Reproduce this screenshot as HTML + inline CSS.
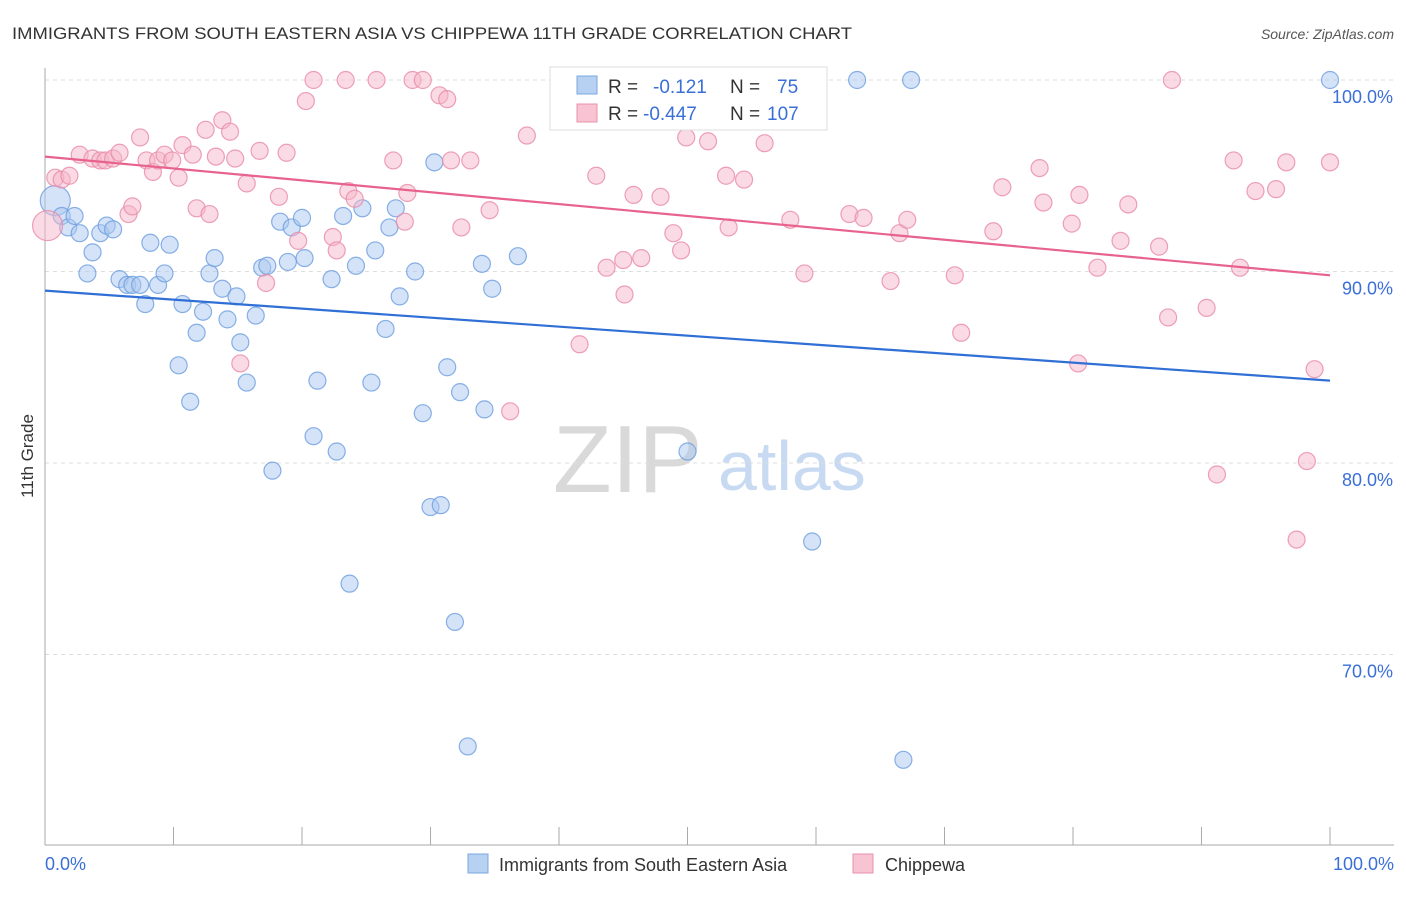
<!DOCTYPE html>
<html><head><meta charset="utf-8">
<style>
body{margin:0;background:#fff;font-family:"Liberation Sans",sans-serif;}
svg text{font-family:"Liberation Sans",sans-serif;}
</style></head>
<body>
<svg id="chart" width="1406" height="892" viewBox="0 0 1406 892" xmlns="http://www.w3.org/2000/svg">
<text x="12" y="39" font-size="17" fill="#333" textLength="840" lengthAdjust="spacingAndGlyphs">IMMIGRANTS FROM SOUTH EASTERN ASIA VS CHIPPEWA 11TH GRADE CORRELATION CHART</text>
<text x="1394" y="39" font-size="14" fill="#555" text-anchor="end" font-style="italic">Source: ZipAtlas.com</text>
<text transform="translate(33,456) rotate(-90)" font-size="17" fill="#333" text-anchor="middle">11th Grade</text>
<g>
<text x="553" y="492" font-size="96" fill="#d9d9d9" font-family="Liberation Serif,serif">ZIP</text>
<text x="718" y="490" font-size="70" fill="#c8daf2">atlas</text>
</g>
<g id="grid"></g>
<g id="axes"></g>
<g id="pts"></g>
<g id="trends"></g>
<g>
<rect x="550" y="67" width="277" height="63" fill="#fff" stroke="#ddd"/>
<rect x="577" y="76" width="20" height="18" fill="#b7d1f3" stroke="#7aa8e0"/>
<rect x="577" y="104" width="20" height="18" fill="#f8c4d4" stroke="#e890ab"/>
<text x="608" y="93" font-size="19" fill="#333">R =</text>
<text x="653" y="93" font-size="19" fill="#3a6fd8">-0.121</text>
<text x="730" y="93" font-size="19" fill="#333">N =</text>
<text x="777" y="93" font-size="19" fill="#3a6fd8">75</text>
<text x="608" y="120" font-size="19" fill="#333">R =</text>
<text x="643" y="120" font-size="19" fill="#3a6fd8">-0.447</text>
<text x="730" y="120" font-size="19" fill="#333">N =</text>
<text x="767" y="120" font-size="19" fill="#3a6fd8">107</text>
</g>
<g>
<rect x="468" y="854" width="20" height="19" fill="#b7d1f3" stroke="#7aa8e0"/>
<text x="499" y="871" font-size="18" fill="#333">Immigrants from South Eastern Asia</text>
<rect x="853" y="854" width="20" height="19" fill="#f8c4d4" stroke="#e890ab"/>
<text x="885" y="871" font-size="18" fill="#333">Chippewa</text>
</g>
</svg>
<script>
const yTicks=[100,90,80,70];
const yTickLabels=["100.0%","90.0%","80.0%","70.0%"];
const xTickCount=10;
const blueX=[0.8,1.3,1.8,2.3,2.7,3.3,3.7,4.3,4.8,5.3,5.8,6.4,6.8,7.4,7.8,8.2,8.8,9.3,9.7,10.4,10.7,11.3,11.8,12.3,12.8,13.2,13.8,14.2,14.9,15.2,15.7,16.4,16.9,17.3,17.7,18.3,18.9,19.2,20.0,20.2,20.9,21.2,22.3,22.7,23.2,23.7,24.2,24.7,25.4,25.7,26.5,26.8,27.3,27.6,28.8,29.4,30.0,30.3,30.8,31.3,31.9,32.3,32.9,34.0,34.2,34.8,36.8,43.2,50.0,59.7,63.2,66.8,67.4,100];
const blueY=[93.7,92.9,92.3,92.9,92.0,89.9,91.0,92.0,92.4,92.2,89.6,89.3,89.3,89.3,88.3,91.5,89.3,89.9,91.4,85.1,88.3,83.2,86.8,87.9,89.9,90.7,89.1,87.5,88.7,86.3,84.2,87.7,90.2,90.3,79.6,92.6,90.5,92.3,92.8,90.7,81.4,84.3,89.6,80.6,92.9,73.7,90.3,93.3,84.2,91.1,87.0,92.3,93.3,88.7,90.0,82.6,77.7,95.7,77.8,85.0,71.7,83.7,65.2,90.4,82.8,89.1,90.8,100,80.6,75.9,100,64.5,100,100];
const pinkX=[0.2,0.8,1.3,1.9,2.7,3.7,4.3,4.7,5.3,5.8,6.5,6.8,7.4,7.9,8.4,8.8,9.3,9.9,10.4,10.7,11.5,11.8,12.5,12.8,13.3,13.8,14.4,14.8,15.2,15.7,16.7,17.2,18.2,18.8,19.7,20.3,20.9,22.4,22.7,23.4,23.6,24.1,25.8,27.1,28.0,28.2,28.6,29.4,30.7,31.3,31.6,32.4,33.1,34.6,36.2,37.5,41.6,42.9,43.7,45.0,45.1,45.8,46.4,47.9,48.9,49.5,49.9,51.6,53.0,53.2,54.4,56.0,58.0,59.1,62.6,63.7,65.8,66.5,67.1,70.8,71.3,73.8,74.5,77.4,77.7,79.9,80.4,80.5,81.9,83.7,84.3,86.7,87.4,87.7,90.4,91.2,92.5,93.0,94.2,95.8,96.6,97.4,98.2,98.8,100];
const pinkY=[92.4,94.9,94.8,95.0,96.1,95.9,95.8,95.8,95.9,96.2,93.0,93.4,97.0,95.8,95.2,95.8,96.1,95.8,94.9,96.6,96.1,93.3,97.4,93.0,96.0,97.9,97.3,95.9,85.2,94.6,96.3,89.4,93.9,96.2,91.6,98.9,100,91.8,91.1,100,94.2,93.8,100,95.8,92.6,94.1,100,100,99.2,99.0,95.8,92.3,95.8,93.2,82.7,97.1,86.2,95.0,90.2,90.6,88.8,94.0,90.7,93.9,92.0,91.1,97.0,96.8,95.0,92.3,94.8,96.7,92.7,89.9,93.0,92.8,89.5,92.0,92.7,89.8,86.8,92.1,94.4,95.4,93.6,92.5,85.2,94.0,90.2,91.6,93.5,91.3,87.6,100,88.1,79.4,95.8,90.2,94.2,94.3,95.7,76.0,80.1,84.9,95.7];
const blueTrend=[89.0,84.3];
const pinkTrend=[96.0,89.8];

const NS="http://www.w3.org/2000/svg";
const X0=45,X1=1330,YTOP=80,PX10=19.15;
function sx(v){return X0+(X1-X0)*v/100;}
function sy(v){return YTOP+(100-v)*PX10;}
function mk(tag,attrs,parent){const e=document.createElementNS(NS,tag);for(const k in attrs)e.setAttribute(k,attrs[k]);parent.appendChild(e);return e;}
const grid=document.getElementById('grid'),axes=document.getElementById('axes'),pts=document.getElementById('pts'),tr=document.getElementById('trends');
yTicks.forEach((t,i)=>{
  const l=mk('line',{x1:X0,x2:1394,y1:sy(t),y2:sy(t),stroke:'#ddd','stroke-dasharray':'4,4'},grid);
  
  
  const tx=mk('text',{x:1393,y:sy(t)+23,'font-size':18,fill:'#3a6fd8','text-anchor':'end'},grid);
  tx.textContent=yTickLabels[i];
  
  
});
const ax=mk('line',{x1:X0,x2:X0,y1:68,y2:845,stroke:'#aaa'},axes);


const bx=mk('line',{x1:X0,x2:1394,y1:845,y2:845,stroke:'#aaa'},axes);


for(let i=0;i<=xTickCount;i++){
  const t=mk('line',{x1:sx(i*10),x2:sx(i*10),y1:827,y2:845,stroke:'#aaa'},axes);
  
  
}
const xl=mk('text',{x:45,y:870,'font-size':18,fill:'#3a6fd8'},axes);xl.textContent='0.0%';


const xr=mk('text',{x:1394,y:870,'font-size':18,fill:'#3a6fd8','text-anchor':'end'},axes);xr.textContent='100.0%';


function draw(xs,ys,fill,stroke,name){
  xs.forEach((x,i)=>{
    const r=i===0?15:8.5;
    const c=mk('circle',{cx:sx(x),cy:sy(ys[i]),r:r,fill:fill,'fill-opacity':0.5,stroke:stroke,'stroke-opacity':0.8,'stroke-width':1.2},pts);
    
    
  });
}
draw(blueX,blueY,'#a9c8f0','#6b9ee0','point-immigrants');
draw(pinkX,pinkY,'#f5b5c9','#e88aa8','point-chippewa');
const lb=mk('line',{x1:sx(0),x2:sx(100),y1:sy(blueTrend[0]),y2:sy(blueTrend[1]),stroke:'#2f6fd6','stroke-width':2.2},tr);


const lp=mk('line',{x1:sx(0),x2:sx(100),y1:sy(pinkTrend[0]),y2:sy(pinkTrend[1]),stroke:'#e8628e','stroke-width':2.2},tr);


</script>
</body></html>
